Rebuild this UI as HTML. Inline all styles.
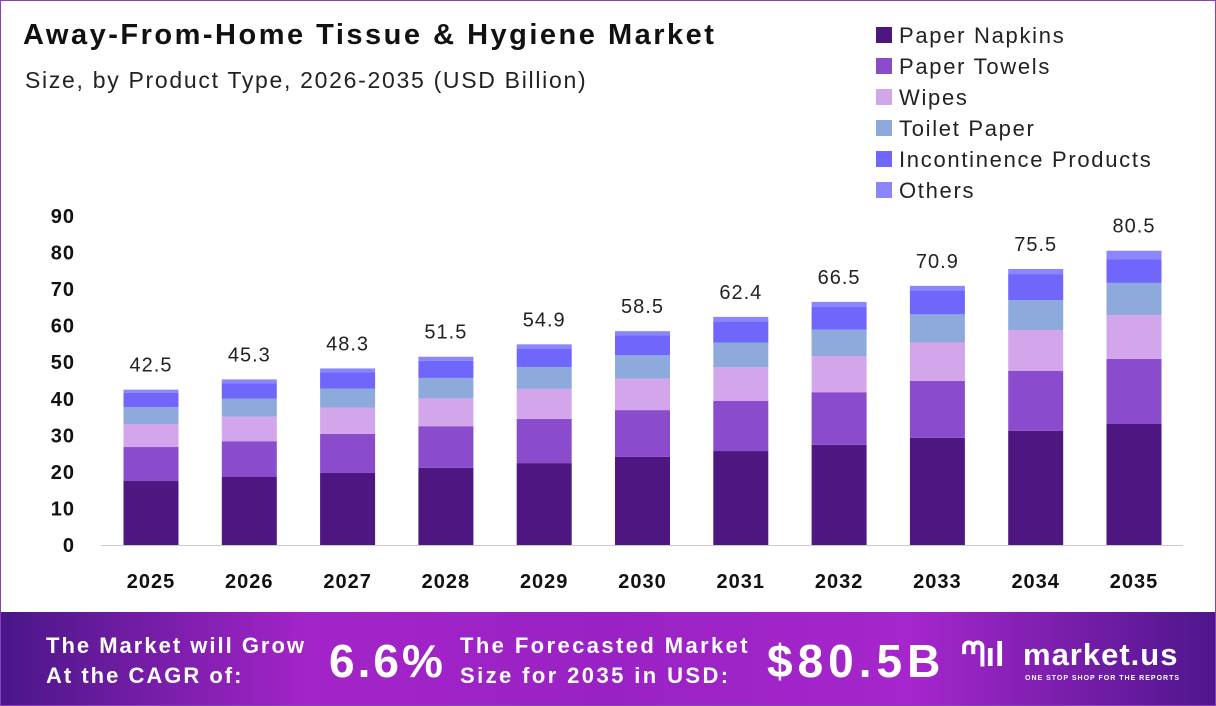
<!DOCTYPE html>
<html><head><meta charset="utf-8"><style>
body{margin:0;width:1216px;height:706px;overflow:hidden;font-family:"Liberation Sans",sans-serif;background:#fff}
#wrap{position:relative;width:1214px;height:704px;border:1px solid #8a3fc0;overflow:hidden}
.banner{position:absolute;left:0;top:611px;width:1216px;height:95px;background:linear-gradient(90deg,#4a1688 0%,#a324c8 25%,#9a22c4 50%,#a526cc 75%,#4e168c 100%)}
.bt{position:absolute;color:#fff;font-weight:bold;white-space:nowrap}
</style></head><body><div id="wrap">
<div style="position:absolute;left:22px;top:18px;font-size:29px;font-weight:bold;color:#111;letter-spacing:2.5px">Away-From-Home Tissue &amp; Hygiene Market</div>
<div style="position:absolute;left:24px;top:66px;font-size:23px;color:#222;letter-spacing:1.7px">Size, by Product Type, 2026-2035 (USD Billion)</div>
<svg id="chart" width="1216" height="610" style="position:absolute;left:0;top:0"></svg>
<div class="banner">
<div class="bt" style="left:45px;top:19px;font-size:22px;line-height:30px;letter-spacing:2px">The Market will Grow<br>At the CAGR of:</div>
<div class="bt" style="left:328px;top:22px;font-size:46px;letter-spacing:3px">6.6%</div>
<div class="bt" style="left:459px;top:19px;font-size:22px;line-height:30px;letter-spacing:2.4px">The Forecasted Market<br>Size for 2035 in USD:</div>
<div class="bt" style="left:766px;top:22px;font-size:46px;letter-spacing:5px">$80.5B</div>
<div class="bt" style="left:960px;top:24px;font-size:34px">ᘉıl</div>
<div class="bt" style="left:1022px;top:25px;font-size:31px;letter-spacing:1px">market.us</div>
<div class="bt" style="left:1024px;top:63px;font-size:7px;letter-spacing:1px">ONE STOP SHOP FOR THE REPORTS</div>
</div>
</div>
<script>
const years=["2025","2026","2027","2028","2029","2030","2031","2032","2033","2034","2035"];
const totals=[42.5,45.3,48.3,51.5,54.9,58.5,62.4,66.5,70.9,75.5,80.5];
const napkins=[17.5,18.6,19.7,21.1,22.4,24.1,25.7,27.4,29.3,31.2,33.1];
const towels=[9.3,9.8,10.7,11.4,12.1,12.8,13.7,14.4,15.6,16.4,17.8];
const wipes=[6.3,6.7,7.2,7.6,8.2,8.6,9.2,9.9,10.5,11.2,12.0];
const toilet=[4.6,4.9,5.2,5.6,6.0,6.4,6.8,7.2,7.7,8.2,8.8];
const incont=[3.9,4.2,4.4,4.7,5.1,5.4,5.8,6.2,6.6,7.0,6.5];
const others=[0.9,1.1,1.1,1.1,1.1,1.2,1.2,1.4,1.2,1.5,2.3];
const yTicks=[0,10,20,30,40,50,60,70,80,90];
const seriesNames=["Paper Napkins","Paper Towels","Wipes","Toilet Paper","Incontinence Products","Others"];
const series=[napkins,towels,wipes,toilet,incont,others];
const colors=["#4d1680","#8a4ccc","#d3a5ea","#8ea9dc","#7166fb","#8b86fb"];
const NS="http://www.w3.org/2000/svg",svg=document.getElementById('chart');
const y0=544,pxU=(544-215)/90;
const y=v=>y0-v*pxU;
const x=i=>150+i*98.3;
function mk(t,a,txt){const e=document.createElementNS(NS,t);for(const k in a)e.setAttribute(k,a[k]);if(txt!=null)e.textContent=txt;svg.appendChild(e);return e;}
yTicks.forEach(t=>{const e=mk('text',{x:74,y:y(t)+7,'text-anchor':'end','font-size':20,'font-weight':'bold',fill:'#111','letter-spacing':1},t);

});
const ax=mk('line',{x1:100,x2:1182,y1:y0+0.5,y2:y0+0.5,stroke:'#ccc','stroke-width':1});


const bw=55;
years.forEach((yr,i)=>{let c=0;
series.forEach((s,k)=>{const r=mk('rect',{x:x(i)-bw/2,y:y(c+s[i]),width:bw,height:s[i]*pxU,fill:colors[k]});


c+=s[i];});
const l=mk('text',{x:x(i),y:y(totals[i])-18,'text-anchor':'middle','font-size':20,fill:'#222','letter-spacing':1},totals[i].toFixed(1));


const t=mk('text',{x:x(i),y:587,'text-anchor':'middle','font-size':20,'font-weight':'bold',fill:'#111','letter-spacing':1},yr);

});
seriesNames.forEach((n,k)=>{const cy=34+k*31;
const r=mk('rect',{x:875,y:cy-8,width:16,height:16,fill:colors[k]});


const t=mk('text',{x:898,y:cy+8,'font-size':22,fill:'#222','letter-spacing':1.7},n);

});
</script></body></html>
